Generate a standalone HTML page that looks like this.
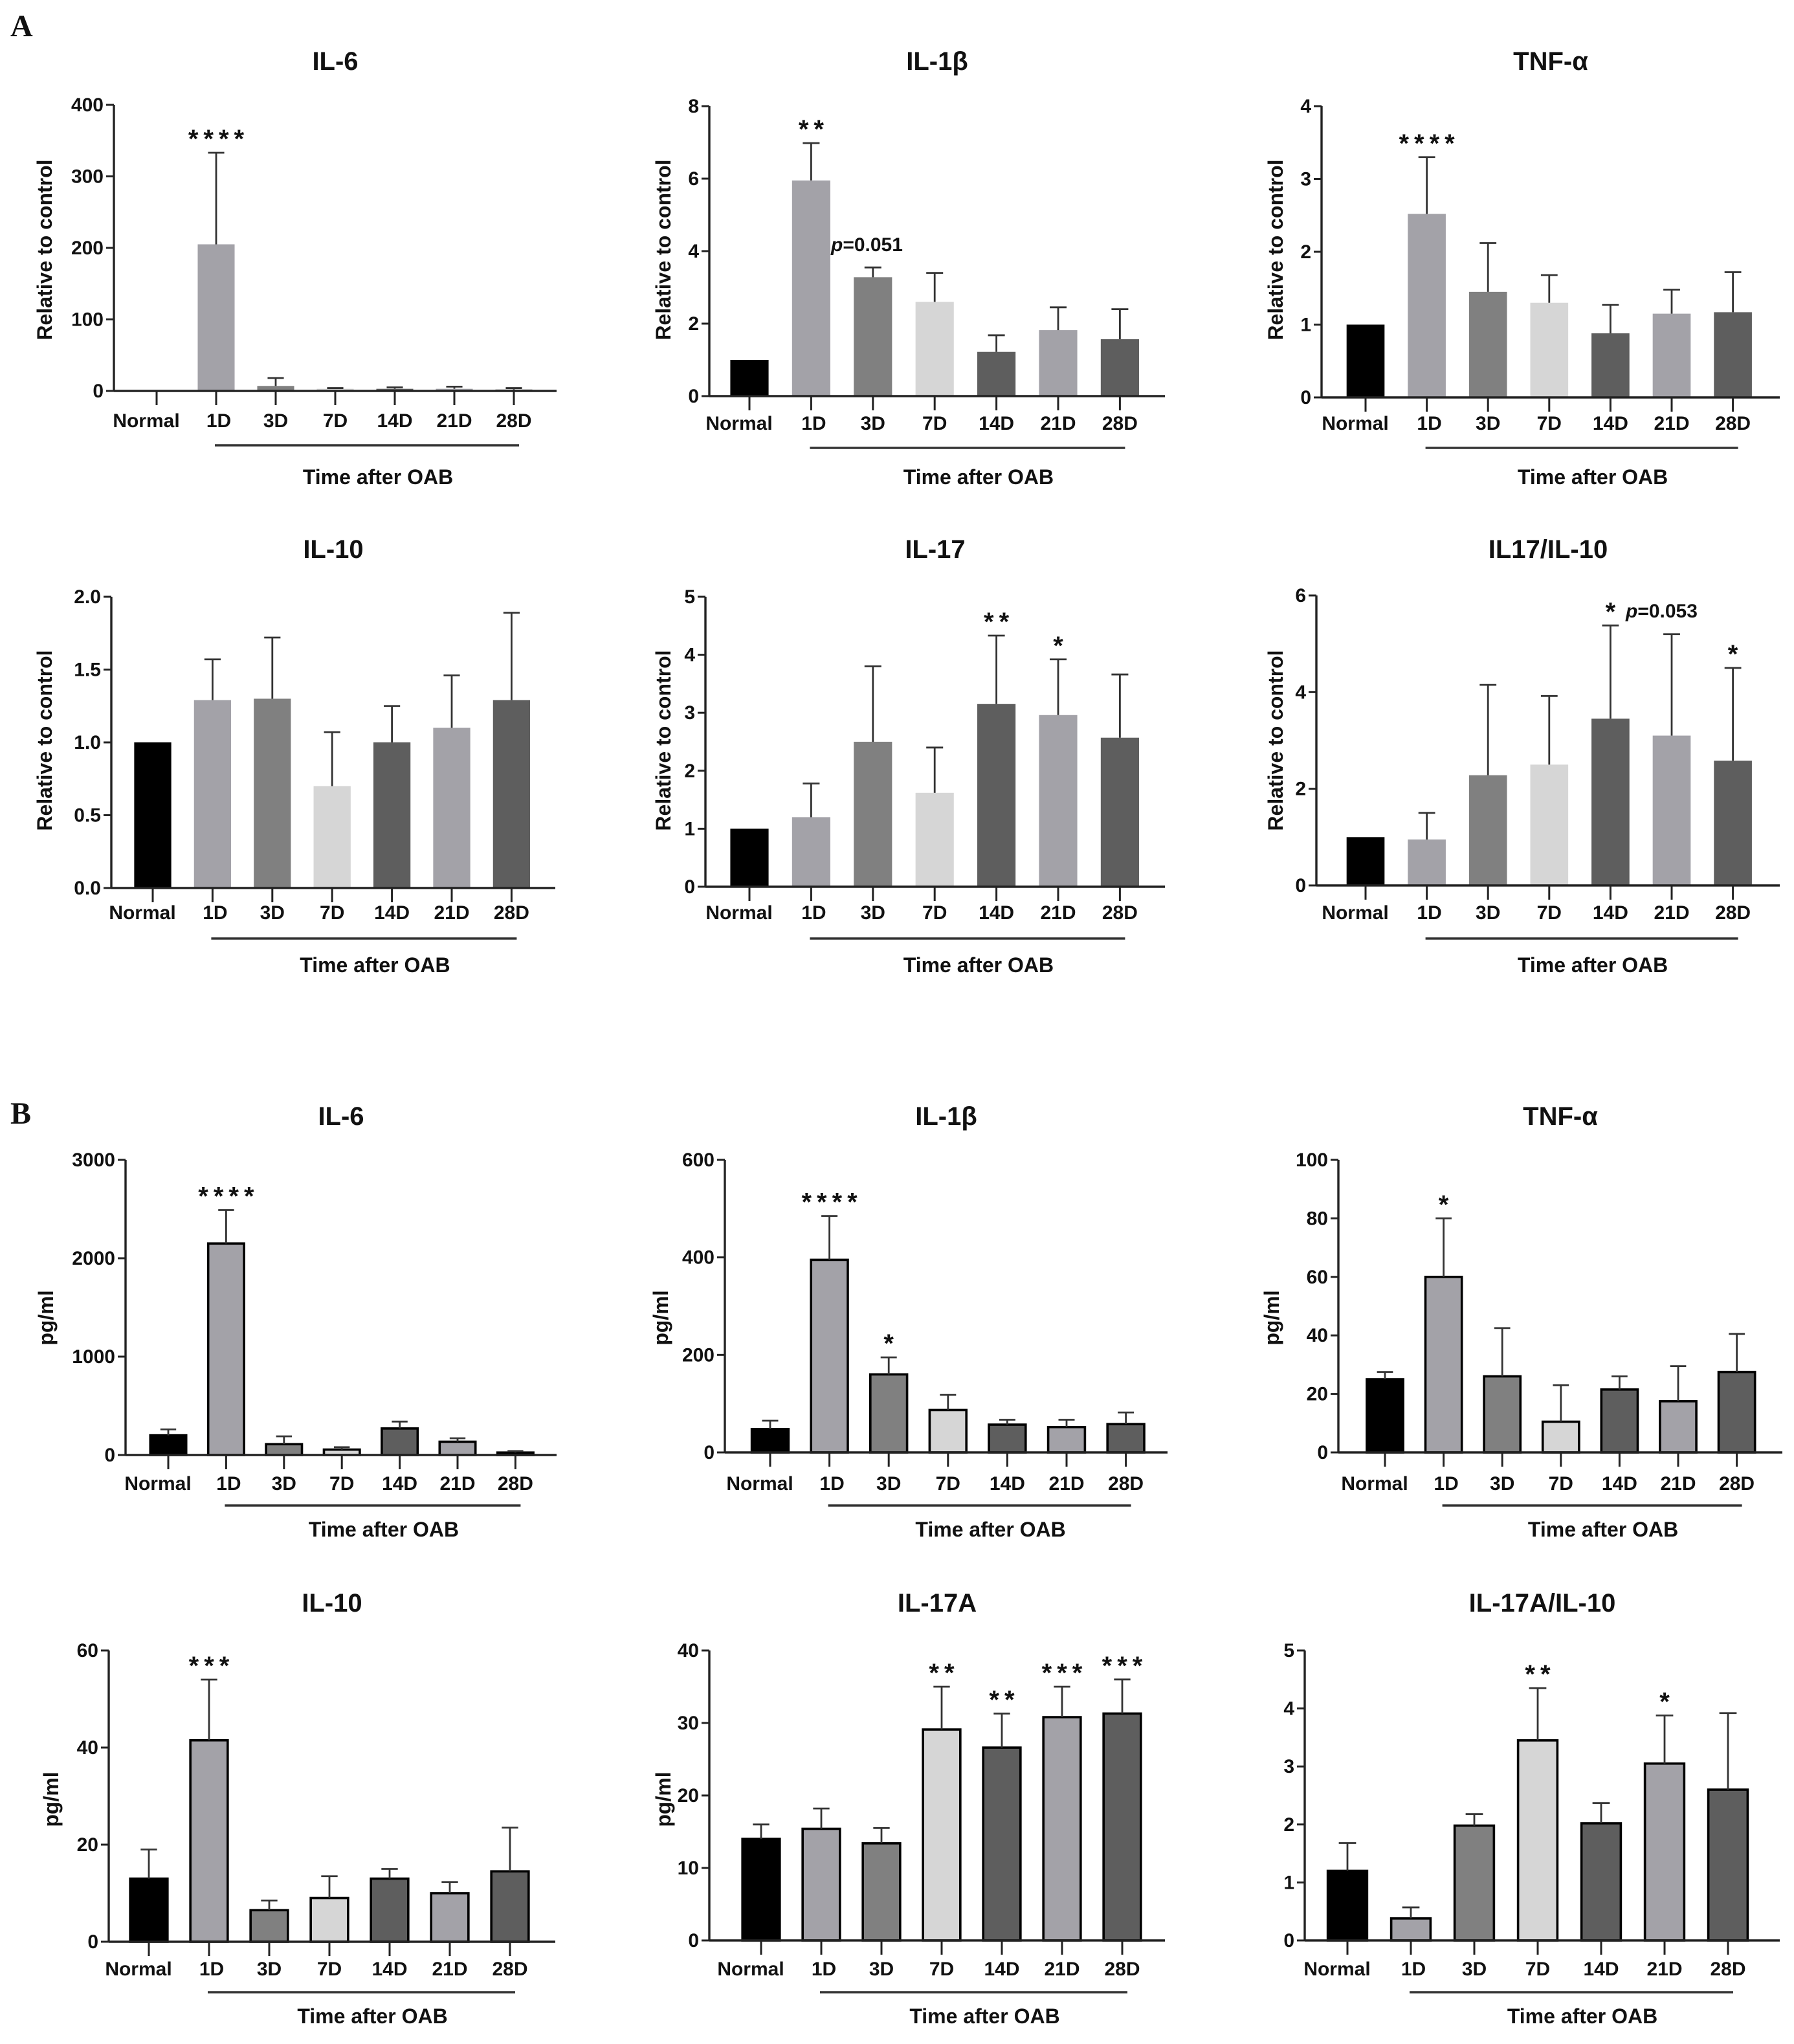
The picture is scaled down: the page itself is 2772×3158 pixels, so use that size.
<!DOCTYPE html>
<html><head><meta charset="utf-8"><style>
html,body{margin:0;padding:0;background:#fff}
svg{display:block}
text{font-family:"Liberation Sans",Arial,sans-serif;font-weight:bold;fill:#111}
</style></head><body>
<svg id="fig" width="2772" height="3158" viewBox="0 0 1386 1579" xmlns="http://www.w3.org/2000/svg">
<rect width="1386" height="1579" fill="#fff"/>
<text x="8" y="28" style="font-family:'Liberation Serif',serif;font-size:24px">A</text>
<text x="8" y="868" style="font-family:'Liberation Serif',serif;font-size:24px">B</text>
</svg>
<script>
const categories = ["Normal","1D","3D","7D","14D","21D","28D"];
// Panel A values (mean) and error tops
const aIl6Values = [1,205,7,3,3,3,2];
const aIl6Errors = [1,333,18,4,5,6,4];
const aIl6Ticks = ["0","100","200","300","400"];
const aIl1bValues = [1,5.95,3.28,2.6,1.22,1.82,1.57];
const aIl1bErrors = [1,6.98,3.55,3.4,1.68,2.45,2.4];
const aIl1bTicks = ["0","2","4","6","8"];
const aTnfValues = [1,2.52,1.45,1.3,0.88,1.15,1.17];
const aTnfErrors = [1,3.3,2.12,1.68,1.27,1.48,1.72];
const aTnfTicks = ["0","1","2","3","4"];
const aIl10Values = [1,1.29,1.3,0.7,1.0,1.1,1.29];
const aIl10Errors = [1,1.57,1.72,1.07,1.25,1.46,1.89];
const aIl10Ticks = ["0.0","0.5","1.0","1.5","2.0"];
const aIl17Values = [1,1.2,2.5,1.62,3.15,2.96,2.57];
const aIl17Errors = [1,1.78,3.8,2.4,4.33,3.92,3.66];
const aIl17Ticks = ["0","1","2","3","4","5"];
const aRatioValues = [1,0.95,2.28,2.5,3.45,3.1,2.58];
const aRatioErrors = [1,1.5,4.15,3.92,5.38,5.2,4.5];
const aRatioTicks = ["0","2","4","6"];
// Panel B
const bIl6Values = [200,2150,110,55,270,135,25];
const bIl6Errors = [260,2490,190,80,340,170,40];
const bIl6Ticks = ["0","1000","2000","3000"];
const bIl1bValues = [48,395,160,87,57,52,58];
const bIl1bErrors = [65,485,195,118,67,67,82];
const bIl1bTicks = ["0","200","400","600"];
const bTnfValues = [25,60,26,10.5,21.5,17.5,27.5];
const bTnfErrors = [27.5,80,42.5,23,26,29.5,40.5];
const bTnfTicks = ["0","20","40","60","80","100"];
const bIl10Values = [13,41.5,6.5,9,13,10,14.5];
const bIl10Errors = [19,54,8.5,13.5,15,12.3,23.5];
const bIl10Ticks = ["0","20","40","60"];
const bIl17Values = [14,15.4,13.4,29.1,26.6,30.8,31.3];
const bIl17Errors = [16,18.2,15.5,35,31.3,35,36];
const bIl17Ticks = ["0","10","20","30","40"];
const bRatioValues = [1.2,0.38,1.98,3.45,2.02,3.05,2.6];
const bRatioErrors = [1.68,0.57,2.18,4.35,2.37,3.88,3.92];
const bRatioTicks = ["0","1","2","3","4","5"];

const barColors = ["#000000","#a3a2a8","#808080","#d6d6d6","#5e5e5e","#a3a2a8","#5e5e5e"];
const NS = "http://www.w3.org/2000/svg";
const svg = document.getElementById("fig");
function mk(tag, attrs, parent, txt){
  const e = document.createElementNS(NS, tag);
  for (const k in attrs) e.setAttribute(k, attrs[k]);
  if (txt !== undefined) e.textContent = txt;
  (parent || svg).appendChild(e);
  return e;
}

const panels = [
 {id:"a-il6", title:"IL-6", vals:aIl6Values, errs:aIl6Errors, ticks:aIl6Ticks, ymax:400, ax:88, top:81, zero:302, x0:121, dx:46, end:430, ytitle:"Relative to control", ytx:35, yty:193, tty:47, lab:325, ul:344, tl:368, outline:false,
  ann:[[1,"****"]]},
 {id:"a-il1b", title:"IL-1β", vals:aIl1bValues, errs:aIl1bErrors, ticks:aIl1bTicks, ymax:8, ax:548, top:82, zero:306, x0:579, dx:47.7, end:900, ytitle:"Relative to control", ytx:513, yty:193, tty:47, lab:327, ul:346, tl:368, outline:false,
  ann:[[1,"**"]], ptext:{x:642,y:194,t:"=0.051"}},
 {id:"a-tnf", title:"TNF-α", vals:aTnfValues, errs:aTnfErrors, ticks:aTnfTicks, ymax:4, ax:1021, top:82, zero:307, x0:1055, dx:47.3, end:1375, ytitle:"Relative to control", ytx:986, yty:193, tty:47, lab:327, ul:346, tl:368, outline:false,
  ann:[[1,"****"]]},
 {id:"a-il10", title:"IL-10", vals:aIl10Values, errs:aIl10Errors, ticks:aIl10Ticks, ymax:2, ax:86, top:461, zero:686, x0:118, dx:46.2, end:429, ytitle:"Relative to control", ytx:35, yty:572, tty:424, lab:705, ul:725, tl:745, outline:false, ann:[]},
 {id:"a-il17", title:"IL-17", vals:aIl17Values, errs:aIl17Errors, ticks:aIl17Ticks, ymax:5, ax:545, top:461, zero:685, x0:579, dx:47.7, end:900, ytitle:"Relative to control", ytx:513, yty:572, tty:424, lab:705, ul:725, tl:745, outline:false,
  ann:[[4,"**"],[5,"*"]]},
 {id:"a-ratio", title:"IL17/IL-10", vals:aRatioValues, errs:aRatioErrors, ticks:aRatioTicks, ymax:6, ax:1017, top:460, zero:684, x0:1055, dx:47.3, end:1375, ytitle:"Relative to control", ytx:986, yty:572, tty:424, lab:705, ul:725, tl:745, outline:false,
  ann:[[4,"*"],[6,"*"]], ptext:{x:1256,y:477,t:"=0.053"}},
 {id:"b-il6", title:"IL-6", vals:bIl6Values, errs:bIl6Errors, ticks:bIl6Ticks, ymax:3000, ax:97, top:896, zero:1124, x0:130, dx:44.7, end:430, ytitle:"pg/ml", ytx:36, yty:1018, tty:862, lab:1146, ul:1163, tl:1181, outline:true,
  ann:[[1,"****"]]},
 {id:"b-il1b", title:"IL-1β", vals:bIl1bValues, errs:bIl1bErrors, ticks:bIl1bTicks, ymax:600, ax:560, top:896, zero:1122, x0:595, dx:45.8, end:902, ytitle:"pg/ml", ytx:511, yty:1018, tty:862, lab:1146, ul:1163, tl:1181, outline:true,
  ann:[[1,"****"],[2,"*"]]},
 {id:"b-tnf", title:"TNF-α", vals:bTnfValues, errs:bTnfErrors, ticks:bTnfTicks, ymax:100, ax:1034, top:896, zero:1122, x0:1070, dx:45.3, end:1377, ytitle:"pg/ml", ytx:983, yty:1018, tty:862, lab:1146, ul:1163, tl:1181, outline:true,
  ann:[[1,"*"]]},
 {id:"b-il10", title:"IL-10", vals:bIl10Values, errs:bIl10Errors, ticks:bIl10Ticks, ymax:60, ax:84, top:1275, zero:1500, x0:115, dx:46.5, end:429, ytitle:"pg/ml", ytx:40, yty:1390, tty:1238, lab:1521, ul:1539, tl:1557, outline:true,
  ann:[[1,"***"]]},
 {id:"b-il17a", title:"IL-17A", vals:bIl17Values, errs:bIl17Errors, ticks:bIl17Ticks, ymax:40, ax:548, top:1275, zero:1499, x0:588, dx:46.5, end:900, ytitle:"pg/ml", ytx:513, yty:1390, tty:1238, lab:1521, ul:1539, tl:1557, outline:true,
  ann:[[3,"**"],[4,"**"],[5,"***"],[6,"***"]]},
 {id:"b-ratio", title:"IL-17A/IL-10", vals:bRatioValues, errs:bRatioErrors, ticks:bRatioTicks, ymax:5, ax:1008, top:1275, zero:1499, x0:1041, dx:49, end:1375, ytitle:"", ytx:0, yty:0, tty:1238, lab:1521, ul:1539, tl:1557, outline:true,
  ann:[[3,"**"],[5,"*"]]}
];

panels.forEach(p => {
  const g = mk("g", {});
  
  
  const y = v => p.zero - (v / p.ymax) * (p.zero - p.top);
  const x = i => p.x0 + i * p.dx;
  const bw = p.dx * 0.62;
  const midX = (p.ax + p.end) / 2;
  const t = mk("text", {x: midX, y: p.tty + 7, "text-anchor":"middle", "font-size":"20"}, g, p.title);
  
  
  p.vals.forEach((v, i) => {
    const cx = x(i);
    const r = mk("rect", {x: cx - bw/2, y: y(v), width: bw, height: Math.max(0, p.zero - y(v)), fill: barColors[i],
      stroke: p.outline ? "#000" : "none", "stroke-width": p.outline ? 1.8 : 0}, g);
    
    
    const ey = y(p.errs[i]);
    if (p.errs[i] > v) {
      const e = mk("path", {d: `M${cx} ${y(v)}V${ey}M${cx-bw*0.22} ${ey}H${cx+bw*0.22}`, stroke:"#333", "stroke-width":1.4, fill:"none"}, g);
      
      
    }
  });
  const axes = mk("path", {d:`M${p.ax} ${p.top}V${p.zero}M${p.ax} ${p.zero}H${p.end}`, stroke:"#222", "stroke-width":1.7, fill:"none"}, g);
  
  
  const n = p.ticks.length - 1;
  p.ticks.forEach((lab, k) => {
    const ty = p.zero - (k / n) * (p.zero - p.top);
    mk("line", {x1:p.ax-6, x2:p.ax, y1:ty, y2:ty, stroke:"#222", "stroke-width":1.5}, g);
    const tl = mk("text", {x:p.ax-8, y:ty+5, "text-anchor":"end", "font-size":"15"}, g, lab);
    
    
  });
  categories.forEach((c, i) => {
    mk("line", {x1:x(i), x2:x(i), y1:p.zero, y2:p.zero+11, stroke:"#222", "stroke-width":1.5}, g);
    const dx = (i === 0) ? -8 : (i === 1 ? 2 : 0);
    const cl = mk("text", {x:x(i)+dx, y:p.lab+5, "text-anchor":"middle", "font-size":"15"}, g, c);
    
    
  });
  const ul = mk("line", {x1:x(1)-1, x2:x(6)+4, y1:p.ul, y2:p.ul, stroke:"#333", "stroke-width":1.8}, g);
  
  
  const xt = mk("text", {x:(x(1)+x(6))/2 + 10, y:p.tl+6, "text-anchor":"middle", "font-size":"16"}, g, "Time after OAB");
  
  
  if (p.ytitle) {
    const yt = mk("text", {x:p.ytx, y:p.yty, "text-anchor":"middle", "font-size":"16", transform:`rotate(-90 ${p.ytx} ${p.yty})`, dy:"5"}, g, p.ytitle);
    
    
  }
  p.ann.forEach(a => {
    const i = a[0];
    const at = mk("text", {x:x(i)+2, y:y(p.errs[i]) - 4, "text-anchor":"middle", "font-size":"20", "letter-spacing":"4"}, g, a[1]);
    
    
  });
  if (p.ptext) {
    const pt = mk("text", {x:p.ptext.x, y:p.ptext.y, "font-size":"15"}, g);
    
    
    mk("tspan", {"font-style":"italic"}, pt, "p");
    mk("tspan", {}, pt, p.ptext.t);
  }
});
</script>
</body></html>
